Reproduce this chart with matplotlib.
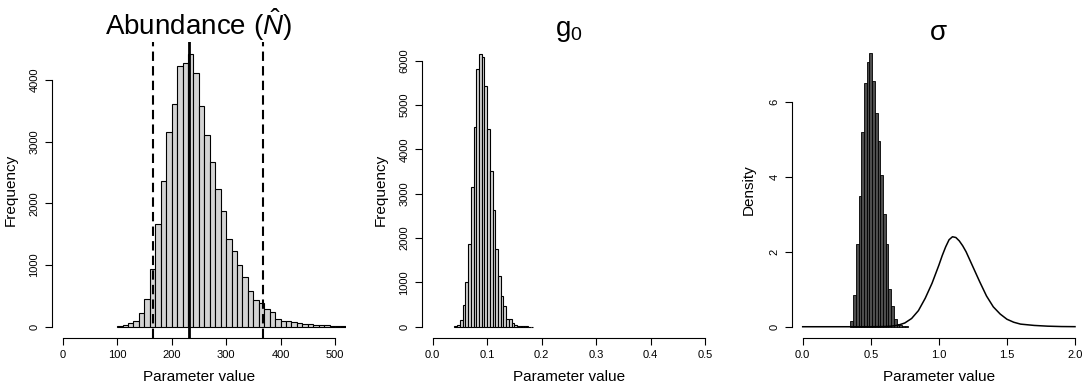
import numpy as np
import matplotlib
matplotlib.use("Agg")
import matplotlib.pyplot as plt

plt.rcParams['font.family'] = ['Liberation Sans', 'DejaVu Sans']
plt.rcParams['mathtext.fontset'] = 'custom'
plt.rcParams['mathtext.rm'] = 'Liberation Sans'
plt.rcParams['mathtext.it'] = 'Liberation Sans:italic'

# ---- data ----
# abundance histogram: bins of width 10 starting at 100
n_bin_start = 100
n_bin_width = 10
n_counts = [8, 22, 55, 90, 230, 450, 931, 1662, 2355, 3150,
            3611, 4222, 4276, 4422, 4103, 3573, 3112, 2663, 2230, 1867,
            1429, 1234, 1001, 812, 585, 433, 379, 281, 244, 120,
            100, 95, 75, 60, 50, 45, 35, 32, 28, 18,
            15, 12]
n_mean = 232.4
n_lower = 166.4
n_upper = 368.3
n_xticks = [0, 100, 200, 300, 400, 500]
n_yticks = [0, 1000, 2000, 3000, 4000]

# g0 histogram: bins of width 0.005 starting at 0.04
g0_bin_start = 0.04
g0_bin_width = 0.005
g0_counts = [10, 40, 150, 490, 1000, 1860, 3160, 4510, 5810, 6150,
             6080, 5430, 4460, 3520, 2640, 1760, 1150, 690, 460, 180,
             165, 75, 40, 25, 18, 10, 6, 4, 2]
g0_xticks = [0.0, 0.1, 0.2, 0.3, 0.4, 0.5]
g0_xticklabels = ['0.0', '0.1', '0.2', '0.3', '0.4', '0.5']
g0_yticks = [0, 1000, 2000, 3000, 4000, 5000, 6000]

# sigma posterior (density histogram, width 0.02 from 0.35) and prior curve
s_bin_start = 0.35
s_bin_width = 0.02
s_density = [0.15, 0.85, 2.2, 3.5, 5.2, 6.5, 7.05, 7.3, 6.55, 5.7,
             4.95, 4.05, 3.0, 2.2, 1.0, 0.55, 0.2, 0.08, 0.04, 0.02, 0.01]
prior_x = [0.0, 0.5, 0.6, 0.65, 0.7, 0.75, 0.8, 0.85, 0.9, 0.95, 1.0, 1.025,
           1.05, 1.075, 1.1, 1.125, 1.15, 1.175, 1.2, 1.25, 1.3, 1.35, 1.4,
           1.45, 1.5, 1.55, 1.6, 1.7, 1.8, 1.9, 2.0]
prior_d = [0.0, 0.0, 0.005, 0.015, 0.04, 0.1, 0.22, 0.43, 0.76, 1.16, 1.64, 1.9,
           2.13, 2.32, 2.40, 2.38, 2.29, 2.16, 2.0, 1.6, 1.2, 0.82, 0.53,
           0.34, 0.2, 0.12, 0.07, 0.035, 0.015, 0.005, 0.002]
s_xticks = [0.0, 0.5, 1.0, 1.5, 2.0]
s_xticklabels = ['0.0', '0.5', '1.0', '1.5', '2.0']
s_yticks = [0, 2, 4, 6]

# ---- layout (pixels) ----
W, H = 1084, 386
fig = plt.figure(figsize=(W / 100, H / 100), dpi=100)
fig.patch.set_facecolor('white')

ax_w, ax_h = 294.1, 296.0
ax_bottom = 337.7


def r_panel(left_px, xmax, ymax, xticks, yticks):
    ax = fig.add_axes([left_px / W, (H - ax_bottom) / H, ax_w / W, ax_h / H])
    ax.set_xlim(-0.04 * xmax, 1.04 * xmax)
    ax.set_ylim(-0.04 * ymax, 1.04 * ymax)
    for s in ['top', 'right']:
        ax.spines[s].set_visible(False)
    for s in ['left', 'bottom']:
        ax.spines[s].set_linewidth(0.8)
    ax.spines['bottom'].set_bounds(xticks[0], xticks[-1])
    ax.spines['left'].set_bounds(yticks[0], yticks[-1])
    ax.set_yticks(yticks)
    ax.tick_params(length=5, width=0.8, labelsize=8, pad=4)
    ax.tick_params(axis='y', labelrotation=90)
    for lab in ax.get_yticklabels():
        lab.set_verticalalignment('center')
    ax.set_xlabel('Parameter value', fontsize=11)
    ax.xaxis.set_label_coords(0.5, -0.108)
    return ax


# panel 1: abundance
ax1 = r_panel(51.8, 500, 4440, n_xticks, n_yticks)
edges = n_bin_start + n_bin_width * np.arange(len(n_counts))
ax1.bar(edges, n_counts, width=n_bin_width, align='edge',
        color='#d3d3d3', edgecolor='black', linewidth=0.8)
ax1.set_xticks(n_xticks)
ax1.axvline(n_mean, color='black', linewidth=2.0)
ax1.axvline(n_lower, color='black', linewidth=1.5, linestyle=(0, (4.5, 2.5)))
ax1.axvline(n_upper, color='black', linewidth=1.5, linestyle=(0, (4.5, 2.5)))
ax1.set_ylabel('Frequency', fontsize=11)
ax1.yaxis.set_label_coords(-0.115, 0.5)
fig.text(198.9 / W, (H - 35) / H, r'Abundance ($\hat{N}$)', fontsize=20,
         ha='center', va='baseline')

# panel 2: g0
ax2 = r_panel(421.8, 0.5, 6180, g0_xticks, g0_yticks)
edges = g0_bin_start + g0_bin_width * np.arange(len(g0_counts))
ax2.bar(edges, g0_counts, width=g0_bin_width, align='edge',
        color='#d3d3d3', edgecolor='black', linewidth=0.8)
ax2.set_xticks(g0_xticks, g0_xticklabels)
ax2.set_ylabel('Frequency', fontsize=11)
ax2.yaxis.set_label_coords(-0.115, 0.5)
fig.text(568.9 / W, (H - 36) / H, r'$\mathrm{g_0}$', fontsize=20,
         ha='center', va='baseline')

# panel 3: sigma
ax3 = r_panel(791.8, 2.0, 7.31, s_xticks, s_yticks)
edges = s_bin_start + s_bin_width * np.arange(len(s_density))
ax3.bar(edges, s_density, width=s_bin_width, align='edge',
        color='#4d4d4d', edgecolor='black', linewidth=0.6)
ax3.plot(prior_x, prior_d, color='black', linewidth=1.1)
ax3.set_xticks(s_xticks, s_xticklabels)
ax3.set_ylabel('Density', fontsize=11)
ax3.yaxis.set_label_coords(-0.122, 0.5)
fig.text(938.0 / W, (H - 40) / H, 'σ', fontsize=20,
         ha='center', va='baseline')

fig.savefig('out.png', dpi=100)
